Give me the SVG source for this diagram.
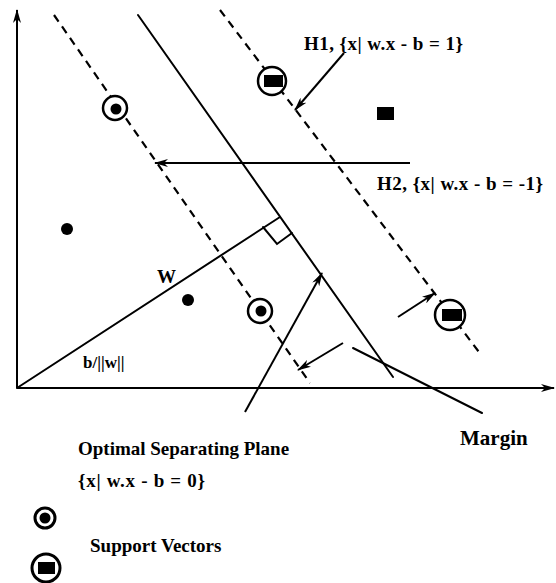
<svg xmlns="http://www.w3.org/2000/svg" width="556" height="583" viewBox="0 0 556 583">
<style>
.ln{stroke:#000;stroke-width:2;fill:none;stroke-linecap:round}
.ds{stroke:#000;stroke-width:2.2;fill:none;stroke-dasharray:8 6}
.ar{stroke:#000;stroke-width:2;fill:none;marker-end:url(#ah)}
.ring{fill:#fff;stroke:#000;stroke-width:2.5}
.t{font-family:"Liberation Serif","Times New Roman",serif;font-weight:bold;font-size:19px;fill:#000}
</style>
<defs>
<marker id="ah" viewBox="0 0 14 8" refX="13" refY="4" markerWidth="14" markerHeight="8" markerUnits="userSpaceOnUse" orient="auto">
<path d="M0,0 L14,4 L0,8 L4,4 z" fill="#000"/>
</marker>
</defs>
<rect width="556" height="583" fill="#fff"/>
<g id="axes">
<line class="ar" x1="17" y1="388" x2="17" y2="10"/>
<line class="ar" x1="17" y1="388" x2="554" y2="388"/>
</g>
<g id="planes">
<line class="ds" x1="54" y1="15" x2="310" y2="383"/>
<line class="ln" x1="138" y1="15" x2="393" y2="377"/>
<line class="ds" x1="220" y1="10" x2="482" y2="356"/>
</g>
<g id="w-vector">
<line class="ln" x1="17" y1="388" x2="280" y2="217"/>
<polyline class="ln" points="263,227 277,244 292,233"/>
</g>
<g id="connectors">
<line class="ar" x1="344" y1="53" x2="295" y2="110"/>
<line class="ar" x1="410" y1="163" x2="155" y2="163"/>
<line class="ar" x1="245" y1="412" x2="322" y2="273"/>
<line class="ar" x1="343" y1="343" x2="298" y2="370"/>
<line class="ar" x1="398" y1="317" x2="435" y2="293"/>
<line class="ln" x1="353" y1="348" x2="482" y2="413"/>
</g>
<g id="sv1"><circle class="ring" cx="115" cy="108" r="12"/><circle cx="116" cy="109" r="5.5"/></g>
<g id="sv2"><circle class="ring" cx="260" cy="311" r="12"/><circle cx="261" cy="311" r="5.5"/></g>
<g id="sv3"><circle class="ring" cx="272" cy="81" r="14"/><rect x="264" y="75" width="19" height="12"/></g>
<g id="sv4"><circle class="ring" cx="450" cy="315" r="15"/><rect x="442" y="309" width="20" height="12"/></g>
<g id="p1"><circle cx="67" cy="229" r="6"/></g>
<g id="p2"><circle cx="188" cy="300" r="6"/></g>
<g id="p3"><rect x="377" y="107" width="17" height="13"/></g>
<g id="labels">
<text class="t" x="304" y="50" textLength="159">H1, {x| w.x - b = 1}</text>
<text class="t" x="377" y="190" textLength="166">H2, {x| w.x - b = -1}</text>
<text class="t" x="157" y="283">W</text>
<text class="t" x="83" y="368" style="font-size:17px">b/||w||</text>
<text class="t" x="78" y="455">Optimal Separating Plane</text>
<text class="t" x="78" y="487" textLength="127">{x| w.x - b = 0}</text>
<text class="t" x="460" y="445" style="font-size:21px">Margin</text>
</g>
<g id="legend">
<g id="leg1"><circle cx="45" cy="518" r="10" fill="#fff" stroke="#000" stroke-width="3"/><circle cx="45" cy="518" r="5.5"/></g>
<g id="leg2"><circle cx="46" cy="568" r="14" fill="#fff" stroke="#000" stroke-width="3"/><rect x="38" y="562" width="17" height="12"/></g>
<text class="t" x="90" y="552">Support Vectors</text>
</g>
</svg>
